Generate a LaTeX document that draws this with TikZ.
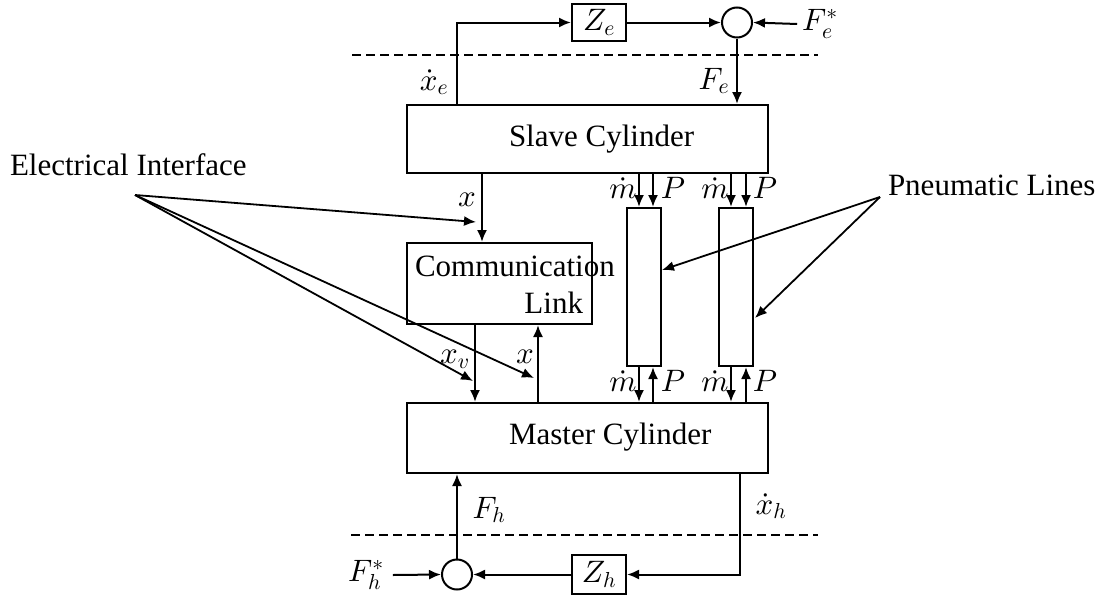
\documentclass[tikz,border=0pt]{standalone}
\usepackage{fontspec}
\setmainfont{Liberation Serif}
% let the math fonts scale to any size
\DeclareFontFamily{OML}{cmm}{\skewchar\font127 }
\DeclareFontShape{OML}{cmm}{m}{it}{<->cmmi10}{}
\DeclareFontFamily{OMS}{cmsy}{\skewchar\font48 }
\DeclareFontShape{OMS}{cmsy}{m}{n}{<->cmsy10}{}
\DeclareFontFamily{OT1}{cmr}{\hyphenchar\font45 }
\DeclareFontShape{OT1}{cmr}{m}{n}{<->cmr10}{}
\usetikzlibrary{arrows.meta}
\begin{document}
\begin{tikzpicture}[x=1pt,y=-1pt,line width=2pt,
  >={Latex[length=12pt,width=10pt]},
  font=\fontsize{31}{37}\selectfont,
  blk/.style={draw,inner sep=0pt},
  sumpt/.style={draw,circle,minimum size=30pt,inner sep=0pt},
  lbl/.style={inner sep=0pt},
  sep/.style={dashed,dash pattern=on 9pt off 5pt}]
\useasboundingbox (0,0) rectangle (1105,597);

% column positions of the vertical signals
\coordinate (cxe) at (457,0);
\coordinate (cx)  at (482,0);
\coordinate (cxv) at (475,0);
\coordinate (cxb) at (538,0);
\coordinate (cm1) at (639,0);
\coordinate (cp1) at (653,0);
\coordinate (cm2) at (731,0);
\coordinate (cp2) at (746,0);
\coordinate (cxh) at (740,0);

% environment / operator boundaries
\coordinate (dt1) at (352,55);
\coordinate (dt2) at (818,55);
\coordinate (db1) at (351,535);
\coordinate (db2) at (818,535);
\draw[sep] (dt1) -- (dt2);
\draw[sep] (db1) -- (db2);

% main blocks
\node[blk,minimum width=361pt,minimum height=68pt] (slave) at (587.5,139) {};
\node[lbl,anchor=west] (slaveT) at (508,139) {Slave Cylinder};
\node[blk,minimum width=361pt,minimum height=70pt] (master) at (587.5,438) {};
\node[lbl,anchor=west] (masterT) at (508,437) {Master Cylinder};
\node[blk,minimum width=185pt,minimum height=81pt] (comm) at (499.5,283.5) {};
\node[lbl,anchor=west] (commA) at (414,266) {Communication};
\node[lbl,anchor=east] (commB) at (584,303) {Link};
\node[blk,minimum width=34pt,minimum height=158pt] (pl1) at (644,287) {};
\node[blk,minimum width=34pt,minimum height=158pt] (pl2) at (736,287) {};

% environment impedance loop
\node[blk,minimum width=54pt,minimum height=37pt] (ze) at (599,22.5) {$Z_e$};
\node[sumpt] (ctop) at (737,22.5) {};
\node[lbl] (fes) at (820,24) {$F_e^*$};
\draw[->] (slave.north -| cxe) |- (ze.west);
\draw[->] (ze.east) -- (ctop.west);
\draw[->] ([xshift=-4pt]fes.west) -- (ctop.east);
\draw[->] (ctop.south) -- (slave.north -| ctop);
\node[lbl] (lxe) at (434,82) {$\dot{x}_e$};
\node[lbl] (lfe) at (714,81) {$F_e$};

% operator impedance loop
\node[blk,minimum width=54pt,minimum height=39pt] (zh) at (599,574.5) {$Z_h$};
\node[sumpt] (cbot) at (457,574.5) {};
\node[lbl] (fhs) at (366,575) {$F_h^*$};
\draw[->] (master.south -| cxh) |- (zh.east);
\draw[->] (zh.west) -- (cbot.east);
\draw[->] ([xshift=8pt]fhs.east) -- (cbot.west);
\draw[->] (cbot.north) -- (master.south -| cbot);
\node[lbl] (lfh) at (489,510) {$F_h$};
\node[lbl] (lxh) at (771,506) {$\dot{x}_h$};

% electrical signals
\draw[->] (slave.south -| cx) -- (comm.north -| cx);
\draw[->] (comm.south -| cxv) -- (master.north -| cxv);
\draw[->] (master.north -| cxb) -- (comm.south -| cxb);
\node[lbl] (lx1) at (467,200) {$x$};
\node[lbl] (lxv) at (455,359) {$x_v$};
\node[lbl] (lx2) at (525,357) {$x$};

% pneumatic signals
\draw[->] (slave.south -| cm1) -- (pl1.north -| cm1);
\draw[->] (slave.south -| cp1) -- (pl1.north -| cp1);
\draw[->] (slave.south -| cm2) -- (pl2.north -| cm2);
\draw[->] (slave.south -| cp2) -- (pl2.north -| cp2);
\draw[->] (pl1.south -| cm1) -- (master.north -| cm1);
\draw[->] (master.north -| cp1) -- (pl1.south -| cp1);
\draw[->] (pl2.south -| cm2) -- (master.north -| cm2);
\draw[->] (master.north -| cp2) -- (pl2.south -| cp2);
\node[lbl] (lm1) at (623,188) {$\dot{m}$};
\node[lbl] (lp1) at (673,188) {$P$};
\node[lbl] (lm2) at (715,188) {$\dot{m}$};
\node[lbl] (lp2) at (765,188) {$P$};
\node[lbl] (lm3) at (623,381) {$\dot{m}$};
\node[lbl] (lp3) at (673,381) {$P$};
\node[lbl] (lm4) at (715,381) {$\dot{m}$};
\node[lbl] (lp4) at (765,381) {$P$};

% callouts
\node[lbl,anchor=west] (elec) at (9,165) {Electrical Interface};
\coordinate (eo) at (135,195);
\coordinate (e1) at (476,222);
\coordinate (e2) at (473,381);
\coordinate (e3) at (534,378);
\draw[->,line width=1.8pt] (eo) -- (e1);
\draw[->,line width=1.8pt] (eo) -- (e2);
\draw[->,line width=1.8pt] (eo) -- (e3);

\node[lbl,anchor=west] (pneu) at (887,185) {Pneumatic Lines};
\coordinate (po) at (880,197);
\coordinate (p1) at (662,270);
\coordinate (p2) at (755,318);
\draw[->,line width=1.8pt] (po) -- (p1);
\draw[->,line width=1.8pt] (po) -- (p2);
\end{tikzpicture}
\end{document}
